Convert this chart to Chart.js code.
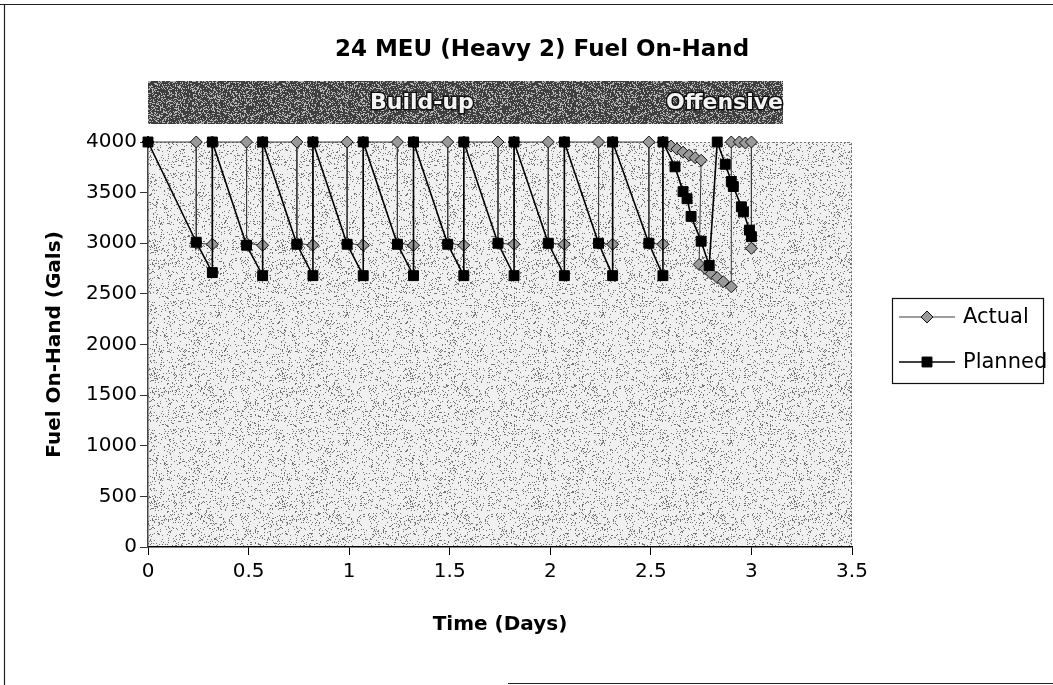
<!DOCTYPE html>
<html>
<head>
<meta charset="utf-8">
<title>24 MEU (Heavy 2) Fuel On-Hand</title>
<script src="https://cdn.jsdelivr.net/npm/chart.js@4.4.1/dist/chart.umd.min.js"></script>
<style>
  html, body { margin: 0; padding: 0; background: #fff; }
  #wrap { width: 1053px; height: 685px; position: relative; }
</style>
</head>
<body>
<div id="wrap"><canvas id="graficoCombustivel" width="1053" height="685"></canvas></div>
<script>
// ========== DADOS ==========
const actualDays = [
  0,
  0.24, 0.24, 0.32, 0.32,
  0.49, 0.49, 0.57, 0.57,
  0.74, 0.74, 0.82, 0.82,
  0.99, 0.99, 1.07, 1.07,
  1.24, 1.24, 1.32, 1.32,
  1.49, 1.49, 1.57, 1.57,
  1.74, 1.74, 1.82, 1.82,
  1.99, 1.99, 2.07, 2.07,
  2.24, 2.24, 2.31, 2.31,
  2.49, 2.49, 2.56, 2.56,
  2.60, 2.63, 2.66, 2.69, 2.72, 2.75,
  2.74, 2.77, 2.80, 2.83, 2.86, 2.90,
  2.90, 2.94, 2.97, 3.00, 3.00
];
const actualFuel = [
  4000,
  4000, 3000, 2990, 4000,
  4000, 3000, 2980, 4000,
  4000, 3000, 2980, 4000,
  4000, 3000, 2980, 4000,
  4000, 3000, 2980, 4000,
  4000, 3000, 2980, 4000,
  4000, 3000, 2990, 4000,
  4000, 3000, 2990, 4000,
  4000, 3000, 2990, 4000,
  4000, 3000, 2990, 4000,
  3960, 3930, 3900, 3870, 3845, 3820,
  2790, 2750, 2700, 2660, 2620, 2570,
  4000, 4000, 3990, 4000, 2950
];

const plannedDays = [
  0, 0.24, 0.32, 0.32,
  0.49, 0.57, 0.57,
  0.74, 0.82, 0.82,
  0.99, 1.07, 1.07,
  1.24, 1.32, 1.32,
  1.49, 1.57, 1.57,
  1.74, 1.82, 1.82,
  1.99, 2.07, 2.07,
  2.24, 2.31, 2.31,
  2.49, 2.56, 2.56,
  2.62, 2.66, 2.68, 2.70, 2.75, 2.79,
  2.83, 2.87, 2.90, 2.91, 2.95, 2.96, 2.99, 3.00
];
const plannedFuel = [
  4000, 3010, 2710, 4000,
  2980, 2680, 4000,
  2990, 2680, 4000,
  2990, 2680, 4000,
  2990, 2680, 4000,
  2990, 2680, 4000,
  3000, 2680, 4000,
  3000, 2680, 4000,
  3000, 2680, 4000,
  3000, 2680, 4000,
  3755, 3510, 3440, 3265, 3020, 2780,
  4000, 3780, 3610, 3560, 3360, 3310, 3130, 3065
];

const xTickValues = [0, 0.5, 1, 1.5, 2, 2.5, 3, 3.5];
const yTickValues = [0, 500, 1000, 1500, 2000, 2500, 3000, 3500, 4000];
const seriesNames = ['Actual', 'Planned'];
const phaseLabels = ['Build-up', 'Offensive'];
const chartTitle = '24 MEU (Heavy 2) Fuel On-Hand';

const FONTE = '"DejaVu Sans", "Liberation Sans", Arial, sans-serif';

function pontos(xs, ys) {
  return xs.map((x, i) => ({ x: x, y: ys[i] }));
}

// textura pontilhada (estilo digitalizado)
function pontilhado(ctx, base, ponto, densidade, semente) {
  const c = document.createElement('canvas');
  c.width = 128; c.height = 128;
  const g = c.getContext('2d');
  g.fillStyle = base;
  g.fillRect(0, 0, 128, 128);
  g.fillStyle = ponto;
  for (let y = 0; y < 128; y++) {
    for (let x = 0; x < 128; x++) {
      const h = Math.abs(Math.sin(x * 12.9898 + y * 78.233 + semente) * 43758.5453) % 1;
      if (h < densidade) g.fillRect(x, y, 1, 1);
    }
  }
  return ctx.createPattern(c, 'repeat');
}

// ========== FUNDO, TÍTULO E FAIXA ==========
const fundoPlugin = {
  id: 'fundo',
  beforeDraw(chart) {
    const ctx = chart.ctx;
    const a = chart.chartArea;
    ctx.save();
    ctx.fillStyle = '#fff';
    ctx.fillRect(0, 0, chart.width, chart.height);

    // moldura
    ctx.strokeStyle = '#222';
    ctx.lineWidth = 1.2;
    ctx.beginPath();
    ctx.moveTo(0, 4.5); ctx.lineTo(chart.width, 4.5);
    ctx.moveTo(4.5, 4.5); ctx.lineTo(4.5, chart.height);
    ctx.moveTo(508, 683.5); ctx.lineTo(chart.width, 683.5);
    ctx.stroke();

    // área do gráfico
    ctx.fillStyle = pontilhado(ctx, '#f0f0f0', '#747474', 0.11, 1.7);
    ctx.fillRect(a.left, a.top, a.right - a.left, a.bottom - a.top);
    ctx.setLineDash([2, 2]);
    ctx.strokeStyle = '#777';
    ctx.lineWidth = 1;
    ctx.beginPath();
    ctx.moveTo(a.left, a.top + 0.5); ctx.lineTo(a.right - 0.5, a.top + 0.5);
    ctx.lineTo(a.right - 0.5, a.bottom);
    ctx.stroke();
    ctx.setLineDash([]);

    // título
    ctx.fillStyle = '#000';
    ctx.font = 'bold 23px ' + FONTE;
    ctx.textAlign = 'center';
    ctx.textBaseline = 'middle';
    ctx.fillText(chartTitle, 542, 50);

    // faixa das fases
    const bx0 = a.left, bx1 = 783, by0 = 81, by1 = 124;
    ctx.fillStyle = pontilhado(ctx, '#3e3e3e', '#b5b5b5', 0.3, 4.1);
    ctx.fillRect(bx0, by0, bx1 - bx0, by1 - by0);
    ctx.font = 'bold 22px ' + FONTE;
    ctx.lineWidth = 3;
    ctx.strokeStyle = '#111';
    ctx.fillStyle = '#f4f4f4';
    ctx.textAlign = 'left';
    ctx.strokeText(phaseLabels[0], 370, 103);
    ctx.fillText(phaseLabels[0], 370, 103);
    ctx.textAlign = 'right';
    ctx.strokeText(phaseLabels[1], bx1, 103);
    ctx.fillText(phaseLabels[1], bx1, 103);
    ctx.restore();
  }
};

// ========== LEGENDA ==========
const legendaPlugin = {
  id: 'legenda',
  afterDraw(chart) {
    const ctx = chart.ctx;
    const bx = 892, by = 298, bw = 151, bh = 85;
    ctx.save();
    ctx.fillStyle = '#fff';
    ctx.fillRect(bx, by, bw, bh);
    ctx.strokeStyle = '#111';
    ctx.lineWidth = 1.2;
    ctx.strokeRect(bx + 0.5, by + 0.5, bw, bh);

    const linhas = [317, 362];
    chart.data.datasets.forEach((ds, i) => {
      const y = linhas[i];
      ctx.strokeStyle = ds.borderColor;
      ctx.lineWidth = ds.borderWidth;
      ctx.beginPath();
      ctx.moveTo(899, y); ctx.lineTo(955, y);
      ctx.stroke();
      ctx.fillStyle = ds.pointBackgroundColor;
      ctx.strokeStyle = ds.pointBorderColor;
      ctx.lineWidth = 1;
      Chart.helpers.drawPoint(ctx, {
        pointStyle: ds.pointStyle, rotation: 0, radius: ds.pointRadius, borderWidth: 1
      }, 927, y);
      ctx.fillStyle = '#000';
      ctx.font = '21px ' + FONTE;
      ctx.textAlign = 'left';
      ctx.textBaseline = 'middle';
      ctx.fillText(ds.label, 963, y + 1);
    });
    ctx.restore();
  }
};

// ========== GRÁFICO ==========
const ctx = document.getElementById('graficoCombustivel').getContext('2d');
new Chart(ctx, {
  type: 'scatter',
  data: {
    datasets: [{
      label: seriesNames[0],
      data: pontos(actualDays, actualFuel),
      showLine: true,
      borderColor: '#3c3c3c',
      borderWidth: 1,
      pointStyle: 'rectRot',
      pointRadius: 6,
      pointBackgroundColor: '#9a9a9a',
      pointBorderColor: '#111',
      pointBorderWidth: 1,
      clip: false,
      order: 1
    }, {
      label: seriesNames[1],
      data: pontos(plannedDays, plannedFuel),
      showLine: true,
      borderColor: '#000',
      borderWidth: 1.6,
      pointStyle: 'rect',
      pointRadius: 7,
      pointBackgroundColor: '#000',
      pointBorderColor: '#000',
      pointBorderWidth: 1,
      clip: false,
      order: 0
    }]
  },
  options: {
    responsive: false,
    animation: false,
    devicePixelRatio: 1,
    layout: { padding: { left: 39, top: 142, right: 201, bottom: 44 } },
    plugins: {
      legend: { display: false },
      title: { display: false },
      tooltip: { enabled: false }
    },
    scales: {
      x: {
        type: 'linear',
        min: 0,
        max: 3.5,
        afterBuildTicks: (s) => { s.ticks = xTickValues.map(v => ({ value: v })); },
        afterFit: (s) => { s.height = 94; },
        grid: { drawOnChartArea: false, drawTicks: true, tickLength: 8, color: '#000' },
        border: { display: true, color: '#000', width: 1.5 },
        ticks: {
          color: '#000', font: { family: FONTE, size: 20 }, padding: 5, maxRotation: 0,
          callback: (v) => String(v)
        },
        title: { display: true, text: 'Time (Days)', color: '#000', font: { family: FONTE, size: 20, weight: 'bold' } }
      },
      y: {
        type: 'linear',
        min: 0,
        max: 4000,
        afterBuildTicks: (s) => { s.ticks = yTickValues.map(v => ({ value: v })); },
        afterFit: (s) => { s.width = 148 - 39; },
        grid: { drawOnChartArea: false, drawTicks: true, tickLength: 8, color: '#333' },
        border: { display: true, color: '#444', width: 1.5 },
        ticks: {
          color: '#000', font: { family: FONTE, size: 20 }, padding: 3,
          callback: (v) => String(v)
        },
        title: { display: true, text: 'Fuel On-Hand (Gals)', color: '#000', font: { family: FONTE, size: 20, weight: 'bold' } }
      }
    }
  },
  plugins: [fundoPlugin, legendaPlugin]
});
</script>
</body>
</html>
